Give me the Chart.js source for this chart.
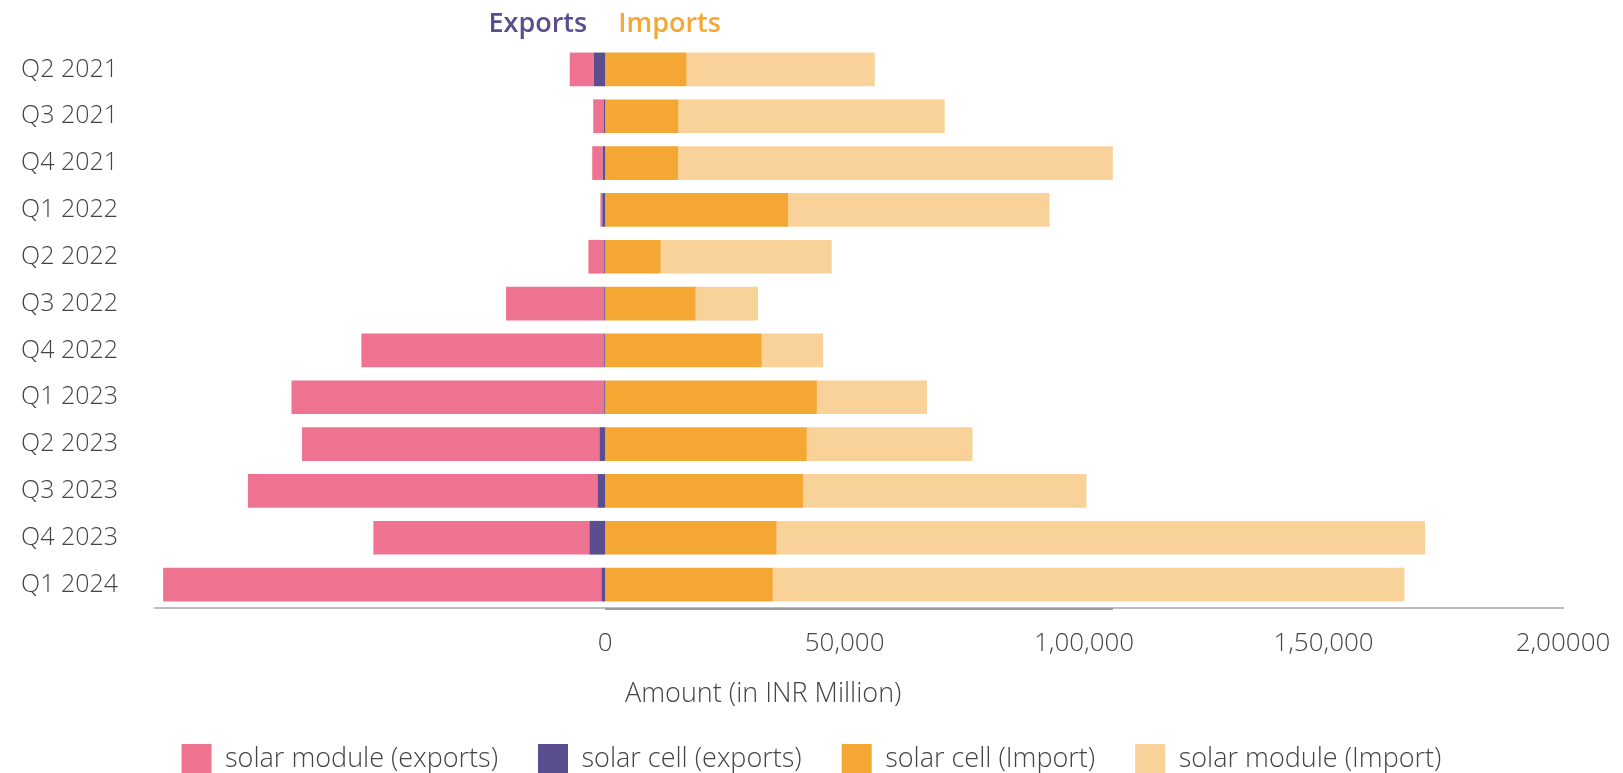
<!DOCTYPE html>
<html>
<head>
<meta charset="utf-8">
<script src="https://cdn.jsdelivr.net/npm/chart.js@4.4.1/dist/chart.umd.min.js"></script>
<style>
  html, body { margin: 0; padding: 0; background: #fff; overflow: hidden; }
  #wrap { position: relative; width: 1623px; height: 784px; }
</style>
</head>
<body>
<div id="wrap"><canvas id="c"></canvas></div>
<script>
// ---- data (INR Million) ----
const categories = ['Q2 2021','Q3 2021','Q4 2021','Q1 2022','Q2 2022','Q3 2022','Q4 2022','Q1 2023','Q2 2023','Q3 2023','Q4 2023','Q1 2024'];
const solarModuleExports = [-5000, -2200, -2200, -400, -3300, -20500, -50700, -65300, -62100, -73000, -45100, -91500];
const solarCellExports   = [-2400, -300, -500, -600, -200, -200, -200, -200, -1200, -1600, -3300, -800];
const solarCellImport    = [17000, 15300, 15200, 38200, 11600, 18900, 32700, 44200, 42100, 41300, 35800, 35000];
const solarModuleImport  = [39300, 55600, 90800, 54600, 35700, 13000, 12800, 23000, 34600, 59200, 135400, 131900];
const tickValues = [0, 50000, 100000, 150000, 200000];
const tickLabels = ['0', '50,000', '1,00,000', '1,50,000', '2,00000'];
const axisTitle = 'Amount (in INR Million)';
const headerExports = 'Exports';
const headerImports = 'Imports';
const legendOrder = ['solar module (exports)', 'solar cell (exports)', 'solar cell (Import)', 'solar module (Import)'];

const PINK = '#EE7391', PURPLE = '#5A4E8F', ORANGE = '#F5A733', LIGHT = '#F8D298';
const TEXT = '#444444';
const FONT = '"Open Sans", "Noto Sans", sans-serif';

const annot = {
  id: 'annot',
  afterDraw(chart) {
    const { ctx, chartArea } = chart;
    const x = chart.scales.x;
    const z = x.getPixelForValue(0);
    ctx.save();
    // darker axis segment
    ctx.strokeStyle = '#9a9a9a';
    ctx.lineWidth = 2;
    ctx.beginPath();
    ctx.moveTo(z, chartArea.bottom + 1);
    ctx.lineTo(x.getPixelForValue(106000), chartArea.bottom + 1);
    ctx.stroke();
    // headers
    ctx.font = '600 27px ' + FONT;
    ctx.textBaseline = 'middle';
    ctx.fillStyle = PURPLE;
    ctx.textAlign = 'right';
    ctx.fillText(headerExports, z - 18, chartArea.top - 22);
    ctx.fillStyle = ORANGE;
    ctx.textAlign = 'left';
    ctx.fillText(headerImports, z + 13, chartArea.top - 22);
    // axis title
    ctx.font = '300 27px ' + FONT;
    ctx.fillStyle = TEXT;
    ctx.textAlign = 'center';
    ctx.fillText(axisTitle, x.getPixelForValue(33000), chartArea.bottom + 86);
    ctx.restore();
  }
};

new Chart(document.getElementById('c'), {
  type: 'bar',
  data: {
    labels: categories,
    datasets: [
      { label: 'solar cell (exports)', data: solarCellExports, backgroundColor: PURPLE },
      { label: 'solar module (exports)', data: solarModuleExports, backgroundColor: PINK },
      { label: 'solar cell (Import)', data: solarCellImport, backgroundColor: ORANGE },
      { label: 'solar module (Import)', data: solarModuleImport, backgroundColor: LIGHT }
    ]
  },
  options: {
    indexAxis: 'y',
    responsive: true,
    maintainAspectRatio: false,
    animation: false,
    datasets: { bar: { barPercentage: 0.72, categoryPercentage: 1.0, borderWidth: 0 } },
    layout: { padding: { top: 46, left: 0, right: 0, bottom: 0 } },
    scales: {
      x: {
        stacked: true,
        min: -94000,
        max: 200000,
        grid: { display: false, drawTicks: false },
        border: { display: true, color: '#bdbdbd', width: 2 },
        afterBuildTicks: (s) => { s.ticks = tickValues.map(v => ({ value: v })); },
        afterFit: (s) => { s.height = 96; s.paddingRight = 60; s.paddingLeft = 0; },
        ticks: {
          autoSkip: false,
          maxRotation: 0,
          padding: 20,
          color: TEXT,
          font: { family: FONT, size: 26, weight: '300' },
          callback: (v, i) => tickLabels[i]
        },
        title: { display: false }
      },
      y: {
        stacked: true,
        grid: { display: false, drawTicks: false },
        border: { display: false },
        afterFit: (s) => { s.width = 155; s.paddingTop = 0; s.paddingBottom = 0; },
        ticks: {
          padding: 37,
          color: TEXT,
          font: { family: FONT, size: 25, weight: '300' }
        }
      }
    },
    plugins: {
      tooltip: { enabled: false },
      legend: {
        position: 'bottom',
        labels: {
          boxWidth: 30,
          boxHeight: 30,
          padding: 40,
          color: TEXT,
          font: { family: FONT, size: 27, weight: '300' },
          sort: (a, b) => legendOrder.indexOf(a.text) - legendOrder.indexOf(b.text)
        }
      }
    }
  },
  plugins: [annot]
});
</script>
</body>
</html>
